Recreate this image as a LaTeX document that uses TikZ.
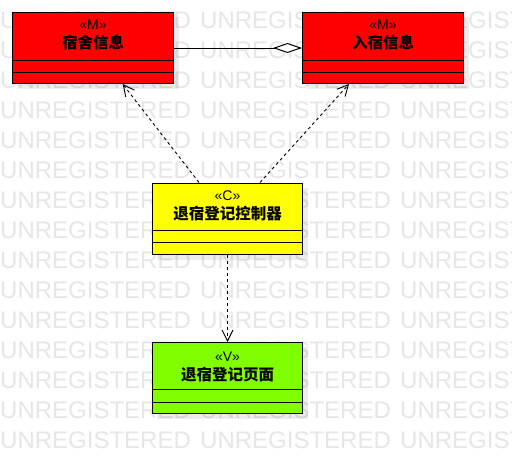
\documentclass[tikz,border=0pt]{standalone}
\usepackage{fontspec}
\setmainfont{Liberation Sans}
\newfontfamily\cjk{Noto Sans CJK SC}
\usetikzlibrary{arrows.meta,calc}

\definecolor{wm}{RGB}{230,230,230}
\definecolor{mred}{RGB}{255,0,0}
\definecolor{cyel}{RGB}{255,255,0}
\definecolor{vgrn}{RGB}{128,255,0}

\begin{document}
\begin{tikzpicture}[x=1pt,y=-1pt,
  umlbox/.style={draw=black, line width=1pt, rectangle, inner sep=0pt, anchor=north west},
  stereo/.style={anchor=base, inner sep=0pt, font=\fontsize{14}{14}\selectfont},
  cname/.style={anchor=base, inner sep=0pt, font=\cjk\bfseries\fontsize{15.5}{15.5}\selectfont},
  wmtext/.style={anchor=base west, inner sep=0pt, text=wm, font=\fontsize{24}{24}\selectfont},
  shadowbox/.style={fill=black, opacity=0.07, draw=none},
  compline/.style={draw=black, line width=1pt},
  dep/.style={draw=black, line width=0.9pt, dash pattern=on 3pt off 3pt, -{Straight Barb[length=11pt,width=11pt]}},
  agg/.style={draw=black, line width=1pt, -{Diamond[fill=white,length=29pt,width=10pt]}}
]
\useasboundingbox (0,0) rectangle (512,463);
\clip (0,0) rectangle (512,463);
\fill[white] (0,0) rectangle (512,463);

% watermark
\foreach \k in {0,...,14} {
  \foreach \xx in {0,200,400} {
    \node[wmtext] (wm\k-\xx) at (\xx, 28.7+30*\k) {UNREGISTERED};
  }
}

% shadows
\fill[shadowbox] (17,17) rectangle (179,89);
\fill[shadowbox] (307,17) rectangle (469,89);
\fill[shadowbox] (157,187.5) rectangle (308,259.5);
\fill[shadowbox] (157,347) rectangle (308,419);

% boxes
\node[umlbox, fill=mred, minimum width=161pt, minimum height=71pt] (m1) at (12,12) {};
\node[umlbox, fill=mred, minimum width=161pt, minimum height=71pt] (m2) at (302,12) {};
\node[umlbox, fill=cyel, minimum width=150pt, minimum height=71pt] (c) at (152,182.5) {};
\node[umlbox, fill=vgrn, minimum width=150pt, minimum height=71pt] (v) at (152,342) {};

% compartments
\foreach \b in {m1,m2,c} {
  \draw[compline] ($(\b.north west)+(0,48)$) -- ($(\b.north east)+(0,48)$);
  \draw[compline] ($(\b.north west)+(0,60)$) -- ($(\b.north east)+(0,60)$);
}
\draw[compline] ($(v.north west)+(0,47)$) -- ($(v.north east)+(0,47)$);
\draw[compline] ($(v.north west)+(0,60)$) -- ($(v.north east)+(0,60)$);

% texts
\node[stereo] (m1s) at ($(m1.north)+(0,18)$) {«M»};
\node[cname]  (m1n) at ($(m1.north)+(0,36.5)$) {宿舍信息};
\node[stereo] (m2s) at ($(m2.north)+(0,18)$) {«M»};
\node[cname]  (m2n) at ($(m2.north)+(0,36.5)$) {入宿信息};
\node[stereo] (cs) at ($(c.north)+(0,17.5)$) {«C»};
\node[cname]  (cn) at ($(c.north)+(0,36.5)$) {退宿登记控制器};
\node[stereo] (vs) at ($(v.north)+(0,19)$) {«V»};
\node[cname]  (vn) at ($(v.north)+(0,38)$) {退宿登记页面};

% connectors
\draw[agg] (m1.east) -- (m2.west);
\draw[dep] ($(c.north west)+(47,0)$) -- ($(m1.south west)+(110.7,0)$);
\draw[dep] ($(c.north west)+(108,0)$) -- ($(m2.south west)+(47,0)$);
\draw[dep] (c.south) -- (v.north);
\end{tikzpicture}
\end{document}
